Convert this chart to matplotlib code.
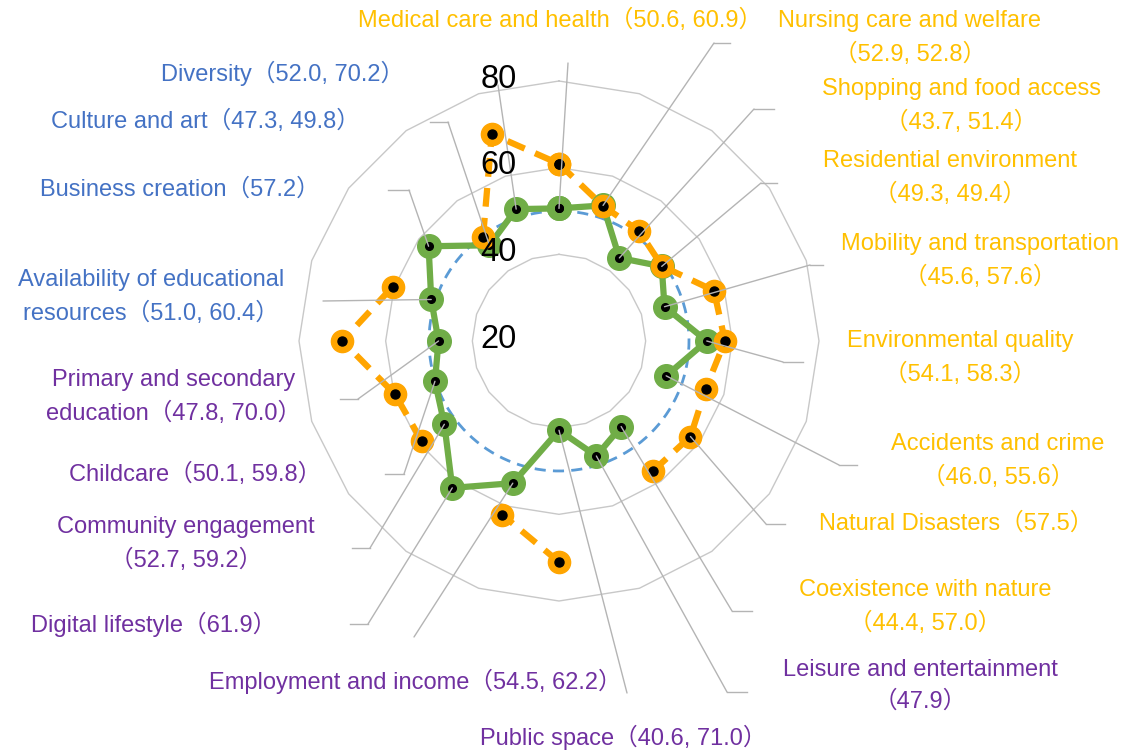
import numpy as np
import matplotlib
matplotlib.use("Agg")
import matplotlib.pyplot as plt
from matplotlib.lines import Line2D
import matplotlib.transforms as mtransforms

# ---------------- data ----------------
categories = [
    "Medical care and health", "Nursing care and welfare", "Shopping and food access",
    "Residential environment", "Mobility and transportation", "Environmental quality",
    "Accidents and crime", "Natural Disasters", "Coexistence with nature",
    "Leisure and entertainment", "Public space", "Employment and income",
    "Digital lifestyle", "Community engagement", "Childcare",
    "Primary and secondary education", "Availability of educational resources",
    "Business creation", "Culture and art", "Diversity",
]
green_values = [50.6, 52.9, 43.7, 49.3, 45.6, 54.1, 46.0, np.nan, 44.4, 47.9,
                40.6, 54.5, 61.9, 52.7, 50.1, 47.8, 51.0, 57.2, 47.3, 52.0]
orange_values = [60.9, 52.8, 51.4, 49.4, 57.6, 58.3, 55.6, 57.5, 57.0, np.nan,
                 71.0, 62.2, np.nan, 59.2, 59.8, 70.0, 60.4, np.nan, 49.8, 70.2]
ring_values = [40, 60, 80]
tick_values = [20, 40, 60, 80]
r_min, r_max = 20, 80
reference_value = 50

# ---------------- layout / style ----------------
W, H = 1127, 751
CX, CY, RPX = 559, 341, 260          # centre and outer radius (pixels, top origin)

C_GREEN = "#70AD47"
C_ORANGE = "#FFA500"
C_BLUE = "#5B9BD5"
C_GRID = "#C8C8C8"
C_LEAD = "#B4B4B4"
T_ORANGE = "#FFC000"
T_PURPLE = "#7030A0"
T_BLUE = "#4472C4"

label_colors = [T_ORANGE] * 9 + [T_PURPLE] * 7 + [T_BLUE] * 4
name_wrap = {
    "Primary and secondary education": "Primary and secondary\neducation",
    "Availability of educational resources": "Availability of educational\nresources",
}
values_new_line = [False, True, True, True, True, True, True, False, True, True,
                   False, False, False, True, False, False, False, False, False, False]
# label centre (x, y) in pixels from top-left
label_pos = [(560, 20), (910, 38), (961, 106), (950, 178), (980, 261), (960, 358),
             (998, 461), (956, 523), (925, 607), (920, 686), (623, 737), (415, 681),
             (154, 624), (186, 544), (195, 474), (174, 397), (151, 297), (180, 190),
             (205, 121), (283, 73)]
# leader start and elbow (pixels from top-left)
lead_start = [(568, 63), (730, 43), (774, 109), (777, 183), (823, 265), (803, 362),
              (857, 465), (785, 524), (752, 611), (747, 692), (627, 693), (414, 637),
              (350, 624), (352, 548), (385, 474), (340, 399), (323, 301), (388, 190),
              (430, 122), (498, 85)]
lead_elbow = [(568, 63), (714, 43), (754, 109), (761, 183), (810, 265), (783, 362),
              (839, 465), (766, 524), (732, 611), (727, 692), (627, 693), (414, 637),
              (368, 624), (370, 548), (404, 474), (358, 399), (323, 301), (409, 190),
              (448, 122), (498, 85)]

FONT = ["Liberation Sans", "Noto Sans CJK JP", "DejaVu Sans"]
plt.rcParams["font.family"] = FONT

fig = plt.figure(figsize=(W / 100, H / 100), dpi=100)
fig.patch.set_facecolor("white")
ax = fig.add_axes([(CX - RPX) / W, (H - CY - RPX) / H, 2 * RPX / W, 2 * RPX / H],
                  projection="polar")
ax.set_theta_zero_location("N")
ax.set_theta_direction(-1)
ax.set_ylim(r_min, r_max)
ax.grid(False)
ax.set_xticks([])
ax.set_yticks([])
ax.spines["polar"].set_visible(False)
ax.patch.set_alpha(0)

n = len(categories)
theta = np.linspace(0, 2 * np.pi, n, endpoint=False)
theta_c = np.append(theta, theta[0])

# polygon gridlines
for v in ring_values:
    ax.plot(theta_c, [v] * (n + 1), color=C_GRID, lw=1.0, zorder=1, clip_on=False)

# reference circle
tt = np.linspace(0, 2 * np.pi, 400)
ax.plot(tt, np.full_like(tt, reference_value), color=C_BLUE, lw=2.0,
        ls=(0, (4, 2.6)), zorder=2)

g = np.append(green_values, green_values[0])
o = np.append(orange_values, orange_values[0])

ax.plot(theta_c, g, color=C_GREEN, lw=4.5, zorder=3, solid_capstyle="round")
ax.plot(theta_c, g, ls="none", marker="o", ms=17, mfc=C_GREEN, mec=C_GREEN, zorder=4)
ax.plot(theta_c, g, ls="none", marker="o", ms=5.5, mfc="black", mec="black", zorder=5)

ax.plot(theta_c, o, color=C_ORANGE, lw=4.5, ls=(0, (3.0, 1.8)), zorder=6)
ax.plot(theta_c, o, ls="none", marker="o", ms=16, mfc=C_ORANGE, mec=C_ORANGE, zorder=7)
ax.plot(theta_c, o, ls="none", marker="o", ms=6.5, mfc="black", mec="black", zorder=8)

# radial tick labels
trans = mtransforms.offset_copy(ax.transData, fig=fig, x=-42, y=2, units="dots")
for v in tick_values:
    ax.text(0, v, str(v), transform=trans, ha="right", va="center",
            fontsize=23.5, color="black", family=FONT, zorder=10)

# category labels with leader lines
for i, name in enumerate(categories):
    vals = [f"{v:.1f}" for v in (green_values[i], orange_values[i]) if not np.isnan(v)]
    disp = name_wrap.get(name, name)
    sep = "\n" if values_new_line[i] else ""
    label = f"{disp}{sep}（{', '.join(vals)}）"
    lx, ly = label_pos[i]
    fig.text(lx / W, 1 - ly / H, label, ha="center", va="center", multialignment="center",
             color=label_colors[i], fontsize=17, family=FONT, linespacing=1.56)

    sx, sy = lead_start[i]
    ex, ey = lead_elbow[i]
    if (sx, sy) != (ex, ey):
        fig.add_artist(Line2D([sx / W, ex / W], [1 - sy / H, 1 - ey / H],
                              transform=fig.transFigure, color=C_LEAD, lw=1.0, zorder=9))
    r_pt = green_values[i] if not np.isnan(green_values[i]) else orange_values[i]
    ax.annotate("", xy=(theta[i], r_pt), xycoords="data",
                xytext=(ex / W, 1 - ey / H), textcoords="figure fraction",
                arrowprops=dict(arrowstyle="-", color=C_LEAD, lw=1.0,
                                shrinkA=0, shrinkB=0),
                annotation_clip=False, zorder=9)

fig.savefig("out.png", dpi=100, facecolor="white")
